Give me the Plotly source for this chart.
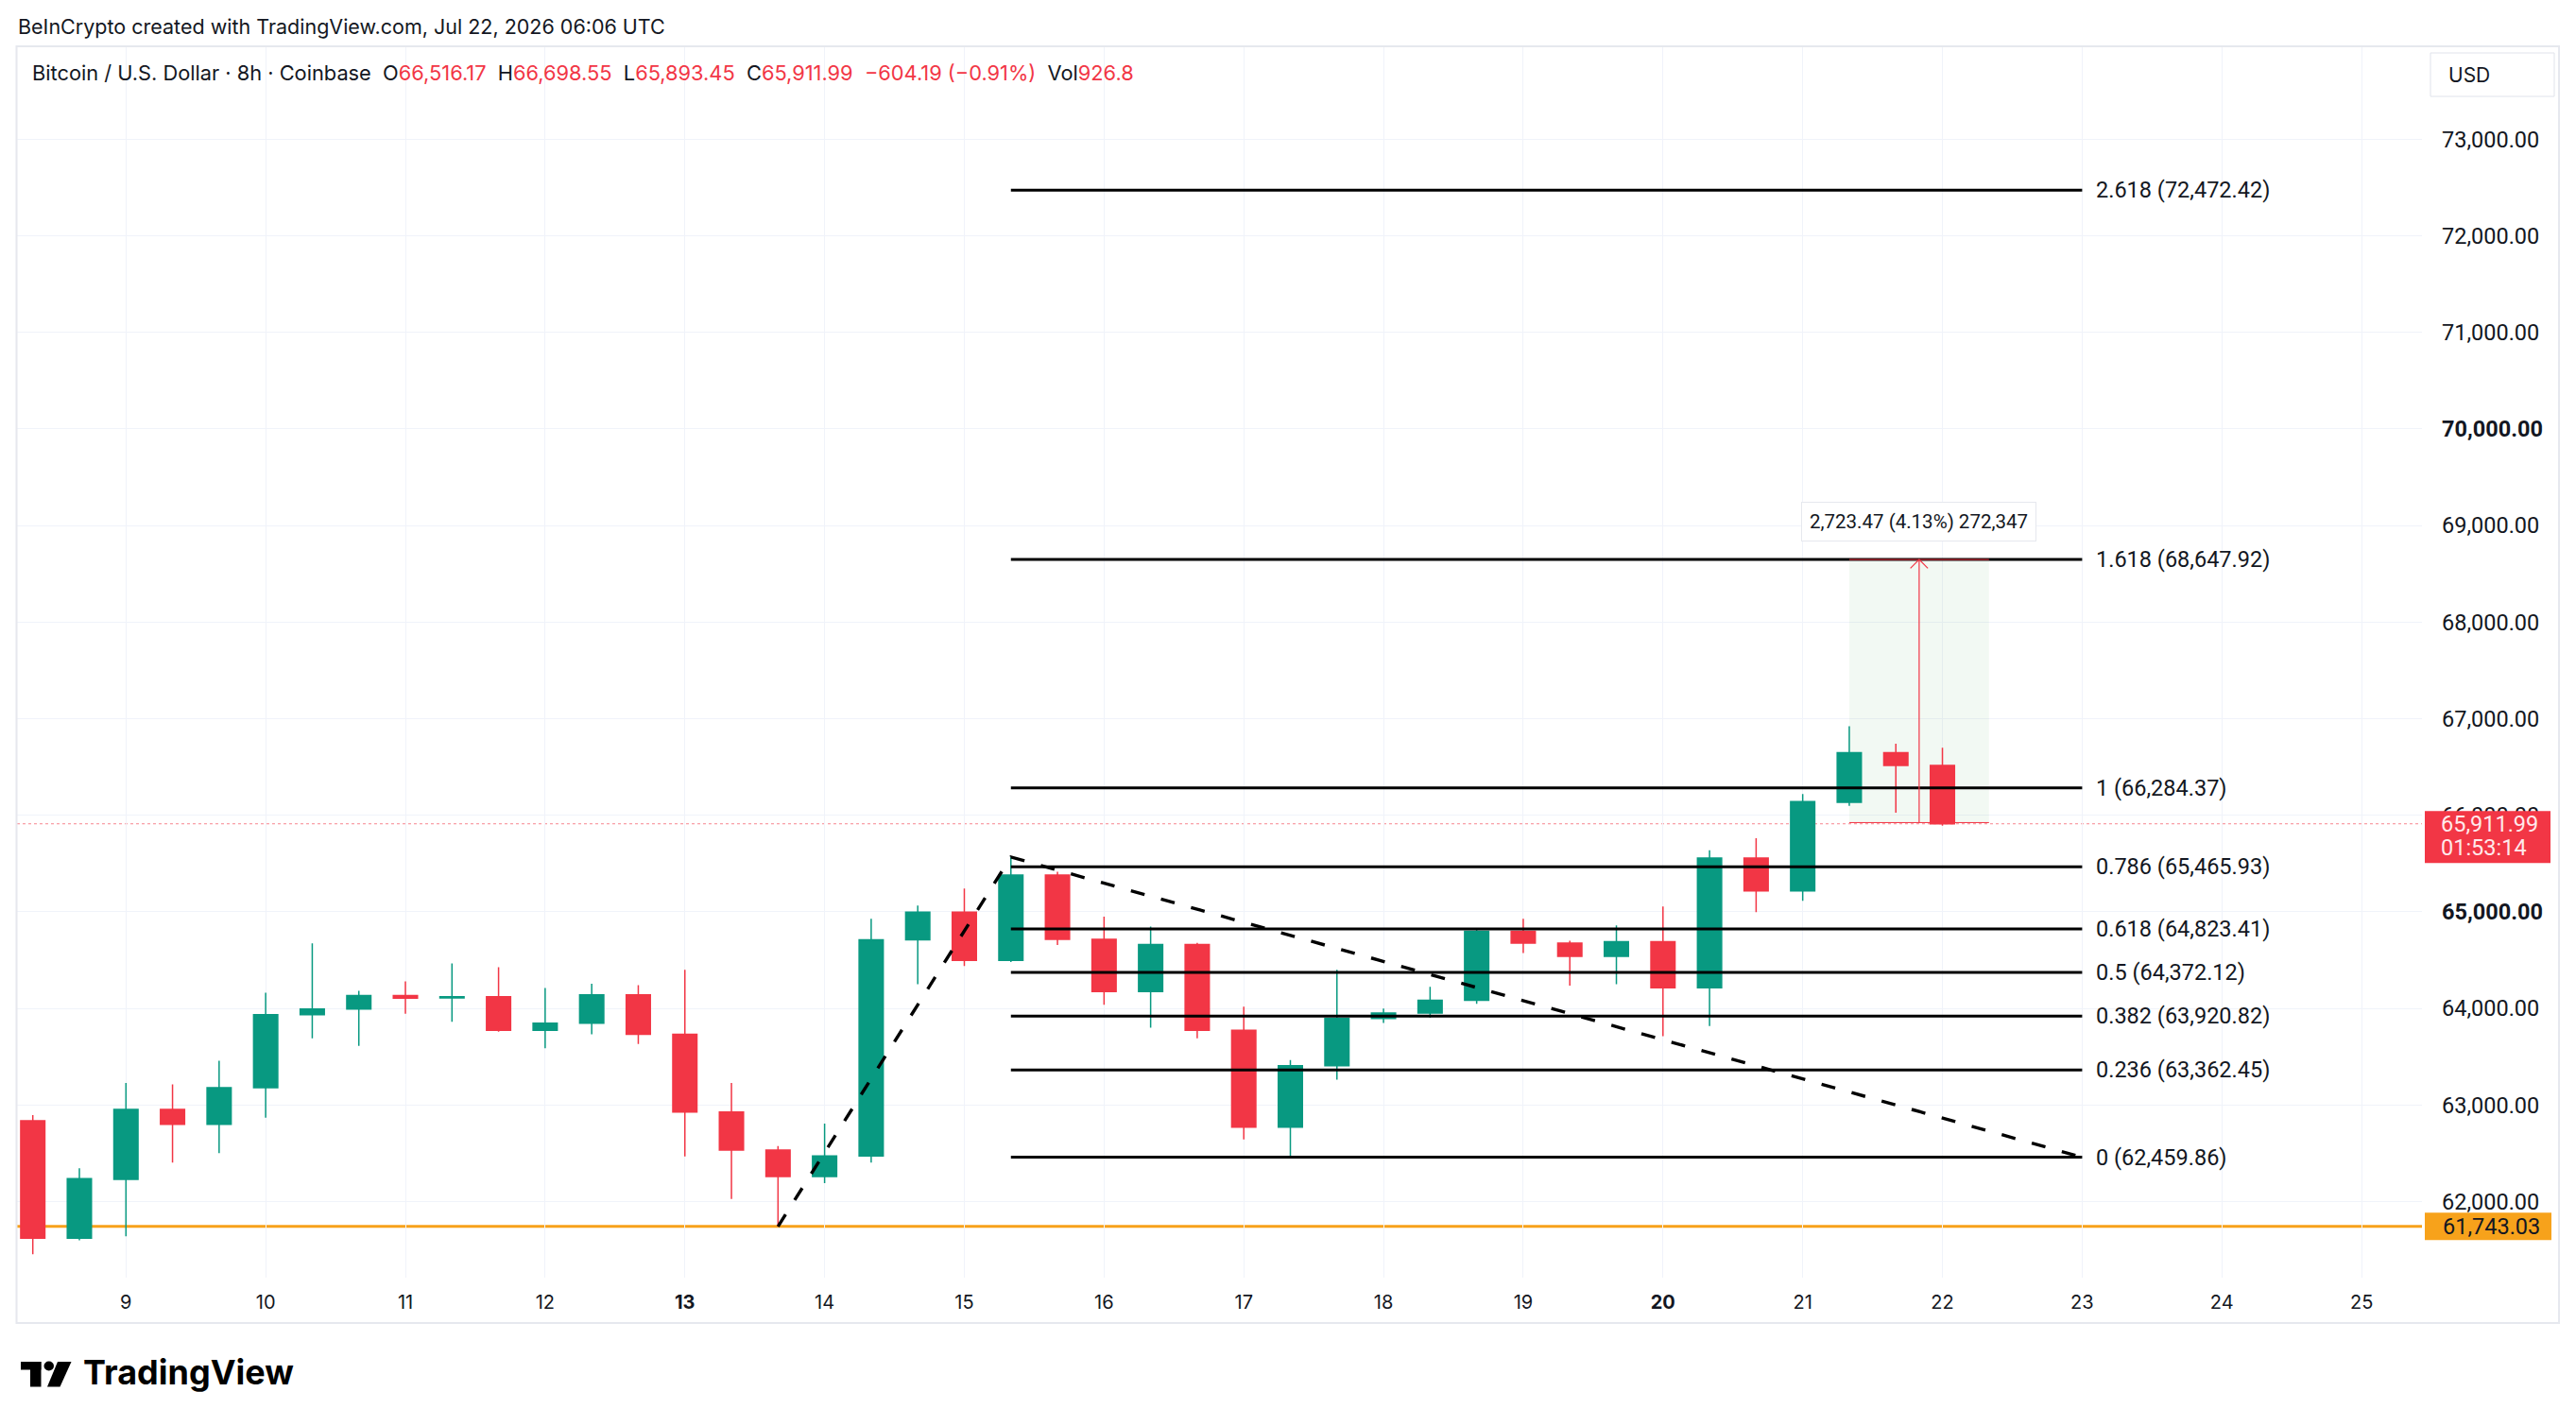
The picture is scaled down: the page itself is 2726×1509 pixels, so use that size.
import plotly.graph_objects as go
import pandas as pd

# ---------------- data ----------------
candle_start = "2026-07-08 08:00"
n_candles = 42
opens = [62837, 61622, 62231, 62954, 62801, 63180, 63936, 63995, 64133, 64110,
         64122, 63773, 63848, 64142, 63733, 62928, 62535, 62261, 62473, 64712,
         64997, 64499, 65380, 64715, 64175, 64663, 63773, 62771, 63406, 63897,
         63953, 64084, 64800, 64676, 64539, 64692, 64214, 65556, 65216, 66134,
         66649, 66516.17]
highs = [62895, 62346, 63229, 63213, 63458, 64162, 64673, 64182, 64280, 64467,
         64427, 64211, 64257, 64241, 64401, 63229, 62575, 62807, 64928, 65065,
         65242, 65567.54, 65416, 64951, 64849, 64680, 64018, 63465, 64401, 63998,
         64224, 64833, 64928, 64702, 64859, 65056, 65638, 65763, 66219, 66923,
         66741, 66698.55]
lows = [61455, 61600, 61642, 62405, 62503, 62869, 63691, 63612, 63946, 63861,
        63760, 63589, 63733, 63632, 62467, 62028, 61743.03, 62192, 62405, 64250,
        64440, 64480, 64656, 64038, 63802, 63691, 62643, 62454, 63262, 63851,
        63904, 64048, 64575, 64237, 64250, 63714, 63818, 64997, 65115, 66098,
        66027, 65893.45]
closes = [61622, 62238, 62954, 62801, 63180, 63936, 63995, 64133, 64107, 64122,
          63773, 63848, 64142, 63733, 62928, 62535, 62261, 62473, 64712, 64997,
          64499, 65380, 64715, 64175, 64663, 63773, 62771, 63406, 63897, 63953,
          64084, 64800, 64676, 64539, 64692, 64214, 65556, 65216, 66141, 66649,
          66516.17, 65911.99]

fib_ratios = ["0", "0.236", "0.382", "0.5", "0.618", "0.786", "1", "1.618", "2.618"]
fib_prices = [62459.86, 63362.45, 63920.82, 64372.12, 64823.41, 65465.93,
              66284.37, 68647.92, 72472.42]
fib_start = "2026-07-15 08:00"
fib_end = "2026-07-23 00:00"

zigzag_times = ["2026-07-13 16:00", "2026-07-15 08:00", "2026-07-23 00:00"]
zigzag_prices = [61743.03, 65567.54, 62459.86]

support_price = 61743.03
last_price = 65911.99
countdown = "01:53:14"

measure_start = "2026-07-21 08:00"
measure_end = "2026-07-22 08:00"
measure_mid = "2026-07-21 20:00"
measure_bottom = 65924.45
measure_top = 68647.92
measure_text = "2,723.47 (4.13%) 272,347"

day_ticks = pd.date_range("2026-07-09", "2026-07-25", freq="D")
bold_days = [13, 20]
price_ticks = [62000, 63000, 64000, 65000, 66000, 67000, 68000, 69000,
               70000, 71000, 72000, 73000]
bold_prices = [65000, 70000]

x_range = ["2026-07-08 05:17:17", "2026-07-25 10:22:00"]
y_range = [61213, 73952]

title_text = "BeInCrypto created with TradingView.com, Jul 22, 2026 06:06 UTC"

# ---------------- geometry helpers ----------------
W, H = 2726, 1509
ML, MR, MT, MB = 18, 163, 50, 157
PW = W - ML - MR
PH = H - MT - MB


def px(x):
    return (x - ML) / PW


def py(y):
    return (H - MB - y) / PH


GREEN = "#089981"
RED = "#f23645"
ORANGE = "#f7a21b"
TXT = "#131722"
GRID = "#f0f3fa"
FONT = "Inter"
NUMFONT = "Roboto"

times = pd.date_range(candle_start, periods=n_candles, freq="8h")

fig = go.Figure()

# fib lines (under candles)
fx, fy = [], []
for p in fib_prices:
    fx += [fib_start, fib_end, None]
    fy += [p, p, None]
fig.add_trace(go.Scatter(x=fx, y=fy, mode="lines",
                         line=dict(color="#000000", width=3),
                         hoverinfo="skip", showlegend=False))

fig.add_trace(go.Candlestick(
    x=times, open=opens, high=highs, low=lows, close=closes,
    increasing=dict(line=dict(color=GREEN, width=1.5), fillcolor=GREEN),
    decreasing=dict(line=dict(color=RED, width=1.5), fillcolor=RED),
    whiskerwidth=0, showlegend=False, hoverinfo="skip"))

# dashed zigzag
fig.add_trace(go.Scatter(x=zigzag_times, y=zigzag_prices, mode="lines",
                         line=dict(color="#000000", width=3.4, dash="15px,18px"),
                         hoverinfo="skip", showlegend=False))

# measurement arrow (vertical line + chevron)
t_mid = pd.Timestamp(measure_mid)
dt = pd.Timedelta(hours=1.5)
dp = 90
fig.add_trace(go.Scatter(
    x=[t_mid, t_mid, None, t_mid - dt, t_mid, t_mid + dt],
    y=[measure_bottom, measure_top, None, measure_top - dp, measure_top, measure_top - dp],
    mode="lines", line=dict(color=RED, width=1.2),
    hoverinfo="skip", showlegend=False))
fig.add_trace(go.Scatter(
    x=[measure_start, measure_end, None, measure_start, measure_end],
    y=[measure_top, measure_top, None, measure_bottom, measure_bottom],
    mode="lines", line=dict(color=RED, width=1),
    hoverinfo="skip", showlegend=False))

shapes = []
# measurement box fill
shapes.append(dict(type="rect", xref="x", yref="y", x0=measure_start, x1=measure_end,
                   y0=measure_bottom, y1=measure_top, fillcolor="rgba(76,175,80,0.07)",
                   line=dict(width=0), layer="between"))
# support line
shapes.append(dict(type="line", xref="paper", yref="y", x0=0, x1=1,
                   y0=support_price, y1=support_price,
                   line=dict(color=ORANGE, width=3), layer="between"))
# last price dotted line
shapes.append(dict(type="line", xref="paper", yref="y", x0=0, x1=1,
                   y0=last_price, y1=last_price,
                   line=dict(color="rgba(242,54,69,0.6)", width=1, dash="dot"), layer="between"))
# chart border
shapes.append(dict(type="rect", xref="paper", yref="paper", x0=px(17.5), x1=px(2708),
                   y0=py(1400), y1=py(49), line=dict(color="#e6e8ee", width=2),
                   fillcolor="rgba(0,0,0,0)", layer="above"))
# USD box
shapes.append(dict(type="rect", xref="paper", yref="paper", x0=px(2572), x1=px(2703),
                   y0=py(102), y1=py(56), line=dict(color="#e0e3eb", width=1),
                   fillcolor="white", layer="above"))
# price label boxes on the axis
shapes.append(dict(type="rect", xref="paper", yref="y", ysizemode="pixel",
                   yanchor=last_price, x0=px(2566), x1=px(2699), y0=-41.5, y1=13.5,
                   fillcolor=RED, line=dict(width=0), layer="above"))
shapes.append(dict(type="rect", xref="paper", yref="y", ysizemode="pixel",
                   yanchor=support_price, x0=px(2566), x1=px(2700), y0=-14.5, y1=14.5,
                   fillcolor=ORANGE, line=dict(width=0), layer="above"))
# TradingView logo
shapes.append(dict(type="rect", xref="paper", yref="paper", x0=px(22), x1=px(43.5),
                   y0=py(1449.5), y1=py(1441), line=dict(width=0), fillcolor="#000000"))
shapes.append(dict(type="rect", xref="paper", yref="paper", x0=px(32), x1=px(43.5),
                   y0=py(1467.5), y1=py(1441), line=dict(width=0), fillcolor="#000000"))
shapes.append(dict(type="circle", xref="paper", yref="paper", x0=px(46.5), x1=px(57),
                   y0=py(1450.5), y1=py(1440.5), line=dict(width=0), fillcolor="#000000"))
shapes.append(dict(type="path", xref="paper", yref="paper",
                   path=f"M {px(61)} {py(1441)} L {px(75.5)} {py(1441)} L {px(63.5)} {py(1467.5)} L {px(50)} {py(1467.5)} Z",
                   line=dict(width=0), fillcolor="#000000"))

annotations = []
annotations.append(dict(xref="paper", yref="paper", x=px(17), y=py(28), xanchor="left",
                        yanchor="middle", text=title_text, showarrow=False,
                        font=dict(family=FONT, size=21.5, color=TXT)))


def red(s):
    return f"<span style='color:{RED}'>{s}</span>"


sp = "\u00a0"
legend_text = ("Bitcoin / U.S. Dollar · 8h · Coinbase" + sp * 2 +
               "O" + red(f"{opens[-1]:,.2f}") + sp * 2 +
               "H" + red(f"{highs[-1]:,.2f}") + sp * 2 +
               "L" + red(f"{lows[-1]:,.2f}") + sp * 2 +
               "C" + red(f"{closes[-1]:,.2f}") + sp * 2 +
               red("\u2212604.19 (\u22120.91%)") + sp * 2 +
               "Vol" + red("926.8"))
annotations.append(dict(xref="paper", yref="paper", x=px(32), y=py(76.5), xanchor="left",
                        yanchor="middle", text=legend_text, showarrow=False,
                        font=dict(family=FONT, size=21.8, color=TXT)))

for r, p in zip(fib_ratios, fib_prices):
    annotations.append(dict(xref="x", yref="y", x=fib_end, y=p, xanchor="left",
                            yanchor="middle", xshift=13, text=f"{r} ({p:,.2f})",
                            showarrow=False, font=dict(family=NUMFONT, size=23.5, color=TXT)))

annotations.append(dict(xref="x", yref="y", x=measure_mid, y=measure_top, xanchor="center",
                        yanchor="bottom", yshift=19, text=measure_text, showarrow=False,
                        bgcolor="white", bordercolor="#e6e8ee", borderwidth=1, borderpad=8,
                        font=dict(family=NUMFONT, size=20.5, color=TXT)))

annotations.append(dict(xref="paper", yref="y", x=px(2581), y=last_price, xanchor="left",
                        yanchor="middle", text=f"{last_price:,.2f}", showarrow=False,
                        font=dict(family=NUMFONT, size=23.5, color="#ffe9eb")))
annotations.append(dict(xref="paper", yref="y", x=px(2581), y=last_price, xanchor="left",
                        yanchor="middle", yshift=-25, text=countdown, showarrow=False,
                        font=dict(family=NUMFONT, size=23.5, color="#ffe9eb")))
annotations.append(dict(xref="paper", yref="y", x=px(2583), y=support_price, xanchor="left",
                        yanchor="middle", text=f"{support_price:,.2f}", showarrow=False,
                        font=dict(family=NUMFONT, size=23.5, color=TXT)))
annotations.append(dict(xref="paper", yref="paper", x=px(2589), y=py(79), xanchor="left",
                        yanchor="middle", text="USD", showarrow=False,
                        font=dict(family=FONT, size=21, color=TXT)))
annotations.append(dict(xref="paper", yref="paper", x=px(86), y=py(1452), xanchor="left",
                        yanchor="middle", text="<b>TradingView</b>", showarrow=False,
                        font=dict(family=FONT, size=36, color="#000000")))

x_ticktext = [f"<b>{d.day}</b>" if d.day in bold_days else str(d.day) for d in day_ticks]
y_ticktext = [f"<b>{v:,.2f}</b>" if v in bold_prices else f"{v:,.2f}" for v in price_ticks]

fig.update_layout(
    width=W, height=H,
    margin=dict(l=ML, r=MR, t=MT, b=MB),
    paper_bgcolor="white", plot_bgcolor="white",
    showlegend=False,
    boxgap=0.26,
    font=dict(family=FONT, color=TXT),
    xaxis=dict(type="date", range=x_range, tickvals=list(day_ticks), ticktext=x_ticktext,
               showgrid=True, gridcolor=GRID, gridwidth=1, zeroline=False,
               showline=False, ticks="", tickfont=dict(family=FONT, size=20, color=TXT),
               ticklabelstandoff=12, rangeslider=dict(visible=False), fixedrange=True),
    yaxis=dict(side="right", range=y_range, tickvals=price_ticks, ticktext=y_ticktext,
               showgrid=True, gridcolor=GRID, gridwidth=1, zeroline=False,
               showline=False, ticks="", tickfont=dict(family=NUMFONT, size=23.5, color=TXT),
               ticklabelstandoff=20, fixedrange=True),
    shapes=shapes, annotations=annotations,
)

fig.write_html("out.html")
